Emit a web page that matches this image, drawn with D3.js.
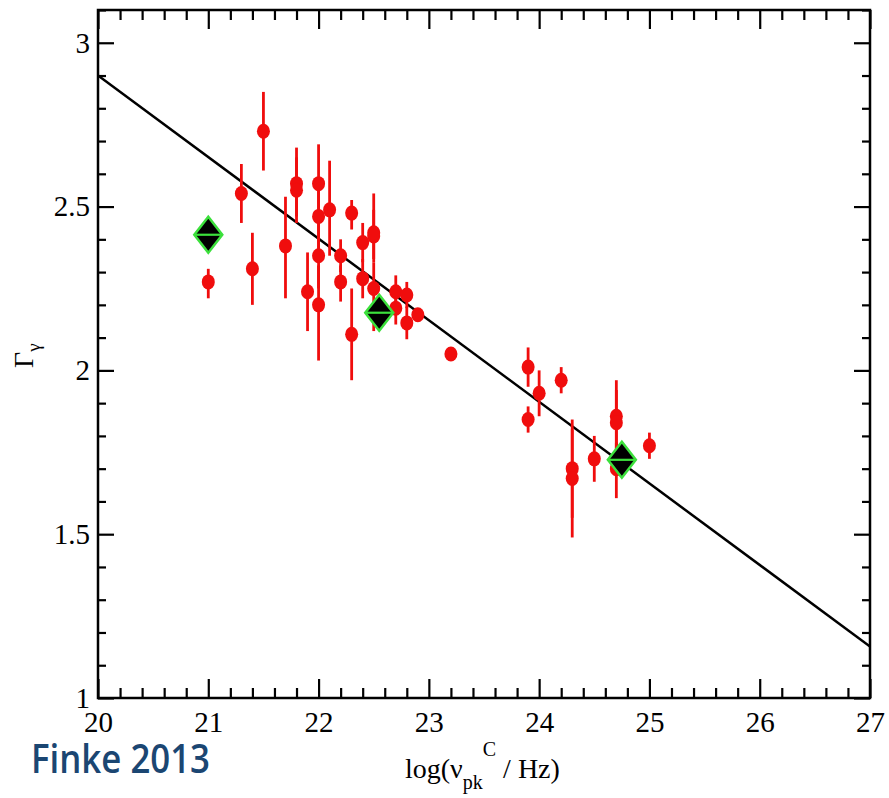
<!DOCTYPE html>
<html>
<head>
<meta charset="utf-8">
<script src="https://cdn.jsdelivr.net/npm/d3@7"></script>
<style>
  html, body { margin: 0; padding: 0; background: #fff; }
  svg { display: block; }
</style>
</head>
<body>
<svg id="chart" width="889" height="798"></svg>
<script>
// ---- data ----
const ptX  = [21.0, 21.3, 21.4, 21.5, 21.7, 21.8, 21.8, 21.9, 22.0, 22.0, 22.0, 22.0, 22.1, 22.2, 22.2, 22.3, 22.3, 22.4, 22.4, 22.5, 22.5, 22.5, 22.7, 22.7, 22.8, 22.8, 22.9, 23.2, 23.9, 23.9, 24.0, 24.2, 24.3, 24.3, 24.5, 24.7, 24.7, 24.7, 25.0];
const ptY  = [2.27, 2.54, 2.31, 2.73, 2.38, 2.57, 2.55, 2.24, 2.57, 2.47, 2.35, 2.20, 2.49, 2.35, 2.27, 2.48, 2.11, 2.39, 2.28, 2.42, 2.41, 2.25, 2.24, 2.19, 2.23, 2.145, 2.17, 2.05, 2.01, 1.85, 1.93, 1.97, 1.70, 1.67, 1.73, 1.86, 1.84, 1.70, 1.77];
const errUp = [0.04, 0.09, 0.11, 0.12, 0.15, 0.11, 0.10, 0.12, 0.12, 0.10, 0.10, 0.12, 0.15, 0.05, 0.05, 0.04, 0.14, 0.06, 0.06, 0.12, 0.08, 0.08, 0.05, 0.05, 0.04, 0.05, 0.02, 0.01, 0.06, 0.04, 0.07, 0.04, 0.15, 0.15, 0.07, 0.11, 0.10, 0.08, 0.04];
const errDn = [0.05, 0.09, 0.11, 0.12, 0.16, 0.10, 0.10, 0.12, 0.12, 0.10, 0.10, 0.17, 0.14, 0.05, 0.06, 0.05, 0.14, 0.06, 0.06, 0.08, 0.08, 0.13, 0.05, 0.05, 0.04, 0.05, 0.02, 0.01, 0.06, 0.04, 0.07, 0.04, 0.15, 0.18, 0.07, 0.10, 0.10, 0.09, 0.04];
const diamondX = [21.0, 22.55, 24.75];
const diamondY = [2.414, 2.176, 1.727];
const fitX = [20, 27];
const fitY = [2.9, 1.157];
const xMajor = [20, 21, 22, 23, 24, 25, 26, 27];
const yMajor = [1, 1.5, 2, 2.5, 3];
const yTickLabels = ["1", "1.5", "2", "2.5", "3"];

// ---- layout ----
const svg = d3.select("#chart");
const L = 98, T = 10, R = 870, B = 698;
const x = d3.scaleLinear().domain([20, 27]).range([L, R]);
const y = d3.scaleLinear().domain([1, 3.1]).range([B, T]);

const xMinor = d3.range(20, 27.001, 0.2).map(v => +v.toFixed(1)).filter(v => !xMajor.includes(v));
const yMinor = d3.range(1, 3.1001, 0.1).map(v => +v.toFixed(1)).filter(v => !yMajor.includes(v));

const serif = "'Liberation Serif', 'Times New Roman', serif";

svg.append("clipPath").attr("id", "clip").append("rect")
  .attr("x", L).attr("y", T).attr("width", R - L).attr("height", B - T);

const plot = svg.append("g").attr("clip-path", "url(#clip)");

// fit line
plot.append("line")
  .attr("x1", x(fitX[0])).attr("y1", y(fitY[0]))
  .attr("x2", x(fitX[1])).attr("y2", y(fitY[1]))
  .attr("stroke", "#000").attr("stroke-width", 2.5);

const red = "#f00d0d";
plot.selectAll("line.err").data(ptX).join("line")
  .attr("class", "err")
  .attr("x1", d => x(d)).attr("x2", d => x(d))
  .attr("y1", (d, i) => y(ptY[i] + errUp[i]))
  .attr("y2", (d, i) => y(ptY[i] - errDn[i]))
  .attr("stroke", red).attr("stroke-width", 2.8);

plot.selectAll("ellipse.pt").data(ptX).join("ellipse")
  .attr("class", "pt")
  .attr("cx", d => x(d)).attr("cy", (d, i) => y(ptY[i]))
  .attr("rx", 6.5).attr("ry", 7.5)
  .attr("fill", red);

const dg = plot.selectAll("g.dia").data(diamondX).join("g")
  .attr("class", "dia")
  .attr("transform", (d, i) => `translate(${x(d)},${y(diamondY[i])})`);
dg.append("path")
  .attr("d", "M0,-18 L14,0 L0,18 L-14,0 Z")
  .attr("fill", "#000").attr("stroke", "#3ce03c").attr("stroke-width", 2.5)
  .attr("stroke-linejoin", "miter");
dg.append("line")
  .attr("x1", -14).attr("x2", 14).attr("y1", 0).attr("y2", 0)
  .attr("stroke", "#3ce03c").attr("stroke-width", 2.2);

function styleAxis(g) {
  g.select(".domain").remove();
  g.selectAll(".tick line").attr("stroke", "#000").attr("stroke-width", 2.2);
  g.selectAll(".tick text").attr("font-family", serif).attr("font-size", 29).attr("fill", "#000");
}
svg.append("g").attr("transform", `translate(0,${B})`)
  .call(d3.axisBottom(x).tickValues(xMajor).tickSize(-19).tickPadding(13).tickFormat(d3.format("d")))
  .call(styleAxis);
svg.append("g").attr("transform", `translate(0,${B})`)
  .call(d3.axisBottom(x).tickValues(xMinor).tickSize(-10).tickFormat(""))
  .call(styleAxis);
svg.append("g").attr("transform", `translate(0,${T})`)
  .call(d3.axisTop(x).tickValues(xMajor).tickSize(-19).tickFormat(""))
  .call(styleAxis);
svg.append("g").attr("transform", `translate(0,${T})`)
  .call(d3.axisTop(x).tickValues(xMinor).tickSize(-10).tickFormat(""))
  .call(styleAxis);

svg.append("g").attr("transform", `translate(${L},0)`)
  .call(d3.axisLeft(y).tickValues(yMajor).tickSize(-16).tickPadding(8).tickFormat((d, i) => yTickLabels[i]))
  .call(styleAxis);
svg.append("g").attr("transform", `translate(${L},0)`)
  .call(d3.axisLeft(y).tickValues(yMinor).tickSize(-8).tickFormat(""))
  .call(styleAxis);
svg.append("g").attr("transform", `translate(${R},0)`)
  .call(d3.axisRight(y).tickValues(yMajor).tickSize(-16).tickFormat(""))
  .call(styleAxis);
svg.append("g").attr("transform", `translate(${R},0)`)
  .call(d3.axisRight(y).tickValues(yMinor).tickSize(-8).tickFormat(""))
  .call(styleAxis);

svg.append("rect").attr("x", L).attr("y", T).attr("width", R - L).attr("height", B - T)
  .attr("fill", "none").attr("stroke", "#000").attr("stroke-width", 2.5);

// y label
const yl = svg.append("text")
  .attr("transform", "translate(33,368) rotate(-90)")
  .attr("font-family", serif).attr("font-size", 28).attr("fill", "#000");
yl.append("tspan").text("Γ");
yl.append("tspan").attr("font-size", 19).attr("dy", 7).text("γ");

// x label
const xl = svg.append("text")
  .attr("x", 405).attr("y", 778)
  .attr("font-family", serif).attr("font-size", 28).attr("fill", "#000");
xl.append("tspan").text("log(ν");
xl.append("tspan").attr("font-size", 20).attr("dy", 11).text("pk");
xl.append("tspan").attr("font-size", 20).attr("dy", -33).text("C");
xl.append("tspan").attr("dy", 22).text(" / Hz)");

// credit
svg.append("text")
  .attr("x", 31).attr("y", 773)
  .attr("font-family", "'Open Sans', 'Noto Sans', sans-serif")
  .attr("font-size", 40).attr("font-weight", 600).attr("fill", "#1b4672")
  .attr("textLength", 179).attr("lengthAdjust", "spacingAndGlyphs")
  .text("Finke 2013");
</script>
</body>
</html>
